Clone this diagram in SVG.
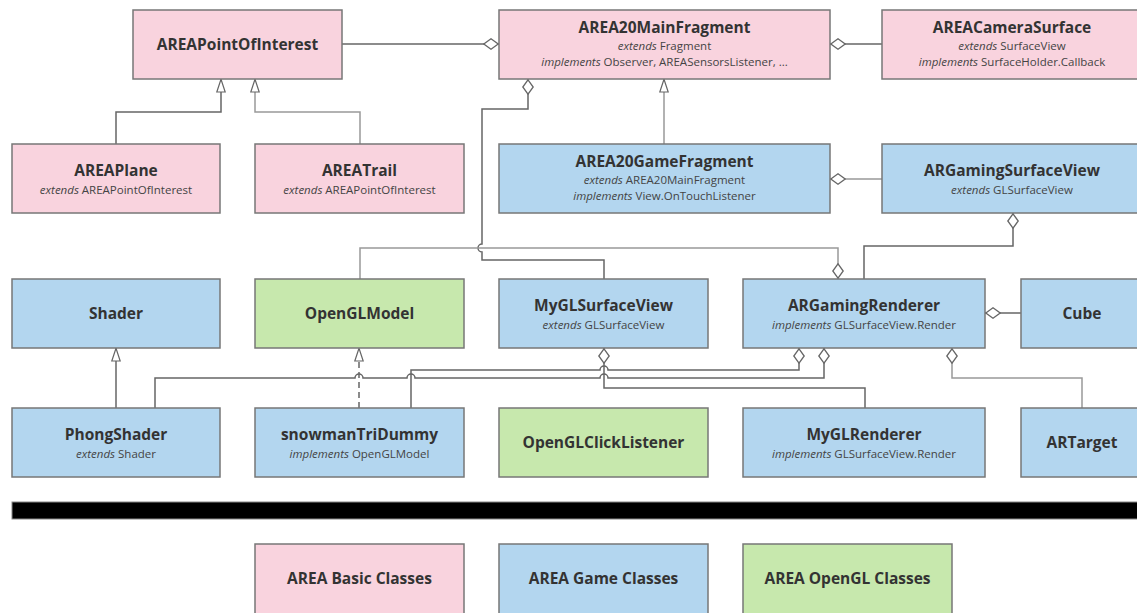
<svg xmlns="http://www.w3.org/2000/svg" width="1137" height="613" viewBox="0 0 1137 613">
<style>
rect.n{stroke:#777;stroke-width:1.5}
.pink{fill:#f9d3de}
.blue{fill:#b3d6ef}
.green{fill:#c7e8ad}
text{font-family:"Open Sans",Lato,"Liberation Sans",sans-serif;fill:#333;text-anchor:middle}
.t{font-size:15.5px;font-weight:bold}
.s{font-size:11.5px;fill:#444}
.i{font-style:italic}
.c{fill:none;stroke:#666;stroke-width:1.5}
.l{stroke:#999}
.d{stroke-dasharray:6,4}
</style>
<defs>
<marker id="dS" viewBox="0 0 16 12" refX="0" refY="6" markerWidth="16" markerHeight="12" markerUnits="userSpaceOnUse" orient="auto"><path d="M0.8,6 L8,0.8 L15.2,6 L8,11.2 Z" fill="#fff" stroke="#666" stroke-width="1.3"/></marker>
<marker id="dE" viewBox="0 0 16 12" refX="16" refY="6" markerWidth="16" markerHeight="12" markerUnits="userSpaceOnUse" orient="auto"><path d="M0.8,6 L8,0.8 L15.2,6 L8,11.2 Z" fill="#fff" stroke="#666" stroke-width="1.3"/></marker>
<marker id="tr" viewBox="0 0 14 10" refX="13.5" refY="5" markerWidth="14" markerHeight="10" markerUnits="userSpaceOnUse" orient="auto"><path d="M0.5,0.8 L13.3,5 L0.5,9.2 Z" fill="#fff" stroke="#666" stroke-width="1.2"/></marker>
</defs>

<g id="connectors">
<path class="c" d="M116,144 V112 H221 V79" marker-end="url(#tr)"/>
<path class="c l" d="M360,144 V112 H255 V79" marker-end="url(#tr)"/>
<path class="c" d="M499,44 H342" marker-start="url(#dS)"/>
<path class="c" d="M830,44 H882" marker-start="url(#dS)"/>
<path class="c l" d="M664,144 V79" marker-end="url(#tr)"/>
<path class="c l" d="M830,179 H882" marker-start="url(#dS)"/>
<path class="c" d="M528,79 V109 H482 V244 A4,4 0 0 0 482,252 V260 H604 V279" marker-start="url(#dS)"/>
<path class="c l" d="M838,279 V248 H360 V279" marker-start="url(#dS)"/>
<path class="c" d="M1013,213 V246 H864 V279" marker-start="url(#dS)"/>
<path class="c" d="M985,313 H1021" marker-start="url(#dS)"/>
<path class="c" d="M116,408 V348" marker-end="url(#tr)"/>
<path class="c d" d="M359,408 V348" marker-end="url(#tr)"/>
<path class="c" d="M155,408 V378 H355 A4,4 0 0 1 363,378 H407 A4,4 0 0 1 415,378 H600 A4,4 0 0 1 608,378 H824 V348" marker-end="url(#dE)"/>
<path class="c" d="M411,408 V370 H600 A4,4 0 0 1 608,370 H799 V348" marker-end="url(#dE)"/>
<path class="c" d="M604,348 V388 H865 V408" marker-start="url(#dS)"/>
<path class="c l" d="M952,348 V378 H1082 V408" marker-start="url(#dS)"/>
</g>

<g id="AREAPointOfInterest"><rect class="n pink" x="133" y="10" width="209" height="69"/><text class="t" x="237.5" y="50">AREAPointOfInterest</text></g>
<g id="AREA20MainFragment"><rect class="n pink" x="499" y="10" width="331" height="69"/><text class="t" x="664.5" y="32.5">AREA20MainFragment</text><text class="s" x="664.5" y="49.5"><tspan class="i">extends</tspan> Fragment</text><text class="s" x="664.5" y="65.5"><tspan class="i">implements</tspan> Observer, AREASensorsListener, ...</text></g>
<g id="AREACameraSurface"><rect class="n pink" x="882" y="10" width="262" height="69"/><text class="t" x="1012" y="32.5">AREACameraSurface</text><text class="s" x="1012" y="49.5"><tspan class="i">extends</tspan> SurfaceView</text><text class="s" x="1012" y="65.5"><tspan class="i">implements</tspan> SurfaceHolder.Callback</text></g>
<g id="AREAPlane"><rect class="n pink" x="12" y="144" width="208" height="69"/><text class="t" x="116" y="176">AREAPlane</text><text class="s" x="116" y="193.5"><tspan class="i">extends</tspan> AREAPointOfInterest</text></g>
<g id="AREATrail"><rect class="n pink" x="255" y="144" width="209" height="69"/><text class="t" x="359.5" y="176">AREATrail</text><text class="s" x="359.5" y="193.5"><tspan class="i">extends</tspan> AREAPointOfInterest</text></g>
<g id="AREA20GameFragment"><rect class="n blue" x="499" y="144" width="331" height="69"/><text class="t" x="664.5" y="166.5">AREA20GameFragment</text><text class="s" x="664.5" y="183.5"><tspan class="i">extends</tspan> AREA20MainFragment</text><text class="s" x="664.5" y="199.5"><tspan class="i">implements</tspan> View.OnTouchListener</text></g>
<g id="ARGamingSurfaceView"><rect class="n blue" x="882" y="144" width="262" height="69"/><text class="t" x="1012" y="176">ARGamingSurfaceView</text><text class="s" x="1012" y="193.5"><tspan class="i">extends</tspan> GLSurfaceView</text></g>
<g id="Shader"><rect class="n blue" x="12" y="279" width="208" height="69"/><text class="t" x="116" y="319">Shader</text></g>
<g id="OpenGLModel"><rect class="n green" x="255" y="279" width="209" height="69"/><text class="t" x="359.5" y="319">OpenGLModel</text></g>
<g id="MyGLSurfaceView"><rect class="n blue" x="499" y="279" width="209" height="69"/><text class="t" x="603.5" y="311">MyGLSurfaceView</text><text class="s" x="603.5" y="328.5"><tspan class="i">extends</tspan> GLSurfaceView</text></g>
<g id="ARGamingRenderer"><rect class="n blue" x="743" y="279" width="242" height="69"/><text class="t" x="864" y="311">ARGamingRenderer</text><text class="s" x="864" y="328.5"><tspan class="i">implements</tspan> GLSurfaceView.Render</text></g>
<g id="Cube"><rect class="n blue" x="1021" y="279" width="122" height="69"/><text class="t" x="1082" y="319">Cube</text></g>
<g id="PhongShader"><rect class="n blue" x="12" y="408" width="208" height="69"/><text class="t" x="116" y="440">PhongShader</text><text class="s" x="116" y="457.5"><tspan class="i">extends</tspan> Shader</text></g>
<g id="snowmanTriDummy"><rect class="n blue" x="255" y="408" width="209" height="69"/><text class="t" x="359.5" y="440">snowmanTriDummy</text><text class="s" x="359.5" y="457.5"><tspan class="i">implements</tspan> OpenGLModel</text></g>
<g id="OpenGLClickListener"><rect class="n green" x="499" y="408" width="209" height="69"/><text class="t" x="603.5" y="448">OpenGLClickListener</text></g>
<g id="MyGLRenderer"><rect class="n blue" x="743" y="408" width="242" height="69"/><text class="t" x="864" y="440">MyGLRenderer</text><text class="s" x="864" y="457.5"><tspan class="i">implements</tspan> GLSurfaceView.Render</text></g>
<g id="ARTarget"><rect class="n blue" x="1021" y="408" width="122" height="69"/><text class="t" x="1082" y="448">ARTarget</text></g>

<rect x="12" y="502" width="1130" height="17" fill="#000" stroke="#888" stroke-width="1"/>

<g id="legend-basic"><rect class="n pink" x="255" y="544" width="209" height="75"/><text class="t" x="359.5" y="584">AREA Basic Classes</text></g>
<g id="legend-game"><rect class="n blue" x="499" y="544" width="209" height="75"/><text class="t" x="603.5" y="584">AREA Game Classes</text></g>
<g id="legend-opengl"><rect class="n green" x="743" y="544" width="209" height="75"/><text class="t" x="847.5" y="584">AREA OpenGL Classes</text></g>
</svg>
